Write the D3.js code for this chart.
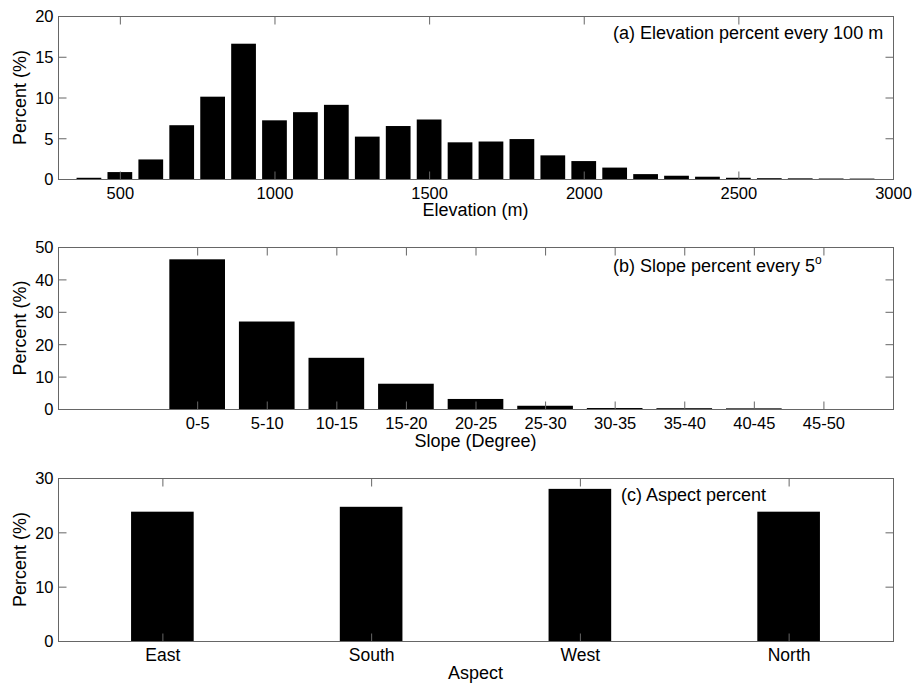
<!DOCTYPE html>
<html>
<head>
<meta charset="utf-8">
<script src="https://cdn.jsdelivr.net/npm/d3@7"></script>
<style>
  body { margin: 0; background: #fff; }
  text { font-family: "Liberation Sans", Arial, sans-serif; font-size: 18px; fill: #000; }
  .frame { fill: none; stroke: #666; stroke-width: 1; }
  .axis path { display: none; }
  .axis line { stroke: #666; }
  .axis text { font-family: "Liberation Sans", Arial, sans-serif; font-size: 16.5px; fill: #000; }
  .axis.cat text { font-size: 17.5px; }
</style>
</head>
<body>
<script>
// panel (a) elevation, every 100 m (bin centres)
const elevBins = [400, 500, 600, 700, 800, 900, 1000, 1100, 1200, 1300, 1400, 1500, 1600,
  1700, 1800, 1900, 2000, 2100, 2200, 2300, 2400, 2500, 2600, 2700, 2800, 2900];
const elevPct = [0.15, 0.85, 2.4, 6.6, 10.1, 16.6, 7.2, 8.2, 9.1, 5.2, 6.5, 7.3, 4.5,
  4.6, 4.9, 2.9, 2.2, 1.4, 0.6, 0.4, 0.28, 0.15, 0.1, 0.08, 0.06, 0.05];
const elevTicks = [500, 1000, 1500, 2000, 2500, 3000];

// panel (b) slope, every 5 degrees
const slopeCats = ["0-5", "5-10", "10-15", "15-20", "20-25", "25-30", "30-35", "35-40", "40-45", "45-50"];
const slopePct = [46.2, 27.0, 15.8, 7.8, 3.1, 1.0, 0.3, 0.25, 0.2, 0];

// panel (c) aspect
const aspectCats = ["East", "South", "West", "North"];
const aspectPct = [23.8, 24.7, 28.0, 23.8];

const width = 914;
const height = 683;

const svg = d3.select("body")
  .append("svg")
  .attr("width", width)
  .attr("height", height);

const left = 58, right = 893;
const tick = 8;

function panel(opt) {
  const g = svg.append("g");
  const x = d3.scaleLinear().domain(opt.xDomain).range([left, right]);
  const y = d3.scaleLinear().domain(opt.yDomain).range([opt.bottom, opt.top]);

  // bars
  g.selectAll("rect.bar")
    .data(opt.xs.map((d, i) => ({x: d, v: opt.vals[i]})))
    .enter().append("rect")
    .attr("class", "bar")
    .attr("x", d => x(d.x - opt.barW / 2))
    .attr("width", d => x(d.x + opt.barW / 2) - x(d.x - opt.barW / 2))
    .attr("y", d => y(d.v))
    .attr("height", d => y(0) - y(d.v))
    .attr("fill", "#000");

  // axes, ticks pointing inwards on all four sides
  const xb = d3.axisBottom(x).tickValues(opt.xTicks).tickSizeInner(-tick).tickSizeOuter(0)
    .tickFormat(opt.xFormat);
  const gxb = g.append("g").attr("class", "axis" + (opt.cat ? " cat" : ""))
    .attr("transform", "translate(0," + (opt.bottom + 0.5) + ")")
    .call(xb);
  gxb.selectAll("text").attr("y", opt.tickBase).attr("dy", null);

  const xt = d3.axisTop(x).tickValues(opt.xTicks).tickSizeInner(-tick).tickSizeOuter(0).tickFormat("");
  g.append("g").attr("class", "axis")
    .attr("transform", "translate(0," + (opt.top + 0.5) + ")")
    .call(xt);

  const yl = d3.axisLeft(y).tickValues(opt.yTicks).tickSizeInner(-tick).tickSizeOuter(0)
    .tickPadding(5);
  const gyl = g.append("g").attr("class", "axis")
    .attr("transform", "translate(" + (left + 0.5) + ",0)")
    .call(yl);
  gyl.selectAll("text").attr("dy", "0.36em");

  const yr = d3.axisRight(y).tickValues(opt.yTicks).tickSizeInner(-tick).tickSizeOuter(0).tickFormat("");
  g.append("g").attr("class", "axis")
    .attr("transform", "translate(" + (right + 0.5) + ",0)")
    .call(yr);

  g.append("rect").attr("class", "frame")
    .attr("x", left + 0.5).attr("y", opt.top + 0.5)
    .attr("width", right - left).attr("height", opt.bottom - opt.top);

  g.append("text")
    .attr("x", (left + right) / 2)
    .attr("y", opt.bottom + opt.labelBase)
    .style("text-anchor", "middle")
    .text(opt.xLabel);

  g.append("text")
    .attr("transform", "translate(26," + ((opt.top + opt.bottom) / 2) + ") rotate(-90)")
    .style("text-anchor", "middle")
    .text("Percent (%)");

  return g;
}

const ga = panel({
  top: 16, bottom: 179,
  xDomain: [300, 3000], yDomain: [0, 20],
  xs: elevBins, vals: elevPct, barW: 80,
  xTicks: elevTicks, yTicks: [0, 5, 10, 15, 20],
  xFormat: d => d, tickBase: 19.3, labelBase: 36.5,
  xLabel: "Elevation (m)"
});
ga.append("text").attr("x", 613).attr("y", 39).text("(a) Elevation percent every 100 m");

const gb = panel({
  top: 247, bottom: 409,
  xDomain: [-1, 11], yDomain: [0, 50],
  xs: d3.range(1, slopeCats.length + 1), vals: slopePct, barW: 0.8,
  xTicks: d3.range(1, slopeCats.length + 1), yTicks: [0, 10, 20, 30, 40, 50],
  xFormat: d => slopeCats[d - 1], tickBase: 19.3, labelBase: 37.5,
  xLabel: "Slope (Degree)"
});
const tb = gb.append("text").attr("x", 613).attr("y", 271.5);
tb.append("tspan").text("(b) Slope percent every 5");
tb.append("tspan").attr("dy", -8).style("font-size", "12px").text("o");

const gc = panel({
  top: 478, bottom: 641,
  xDomain: [0.5, 4.5], yDomain: [0, 30],
  xs: d3.range(1, aspectCats.length + 1), vals: aspectPct, barW: 0.3, cat: true,
  xTicks: d3.range(1, aspectCats.length + 1), yTicks: [0, 10, 20, 30],
  xFormat: d => aspectCats[d - 1], tickBase: 19, labelBase: 37.5,
  xLabel: "Aspect"
});
gc.append("text").attr("x", 621).attr("y", 501).text("(c) Aspect percent");
</script>
</body>
</html>
